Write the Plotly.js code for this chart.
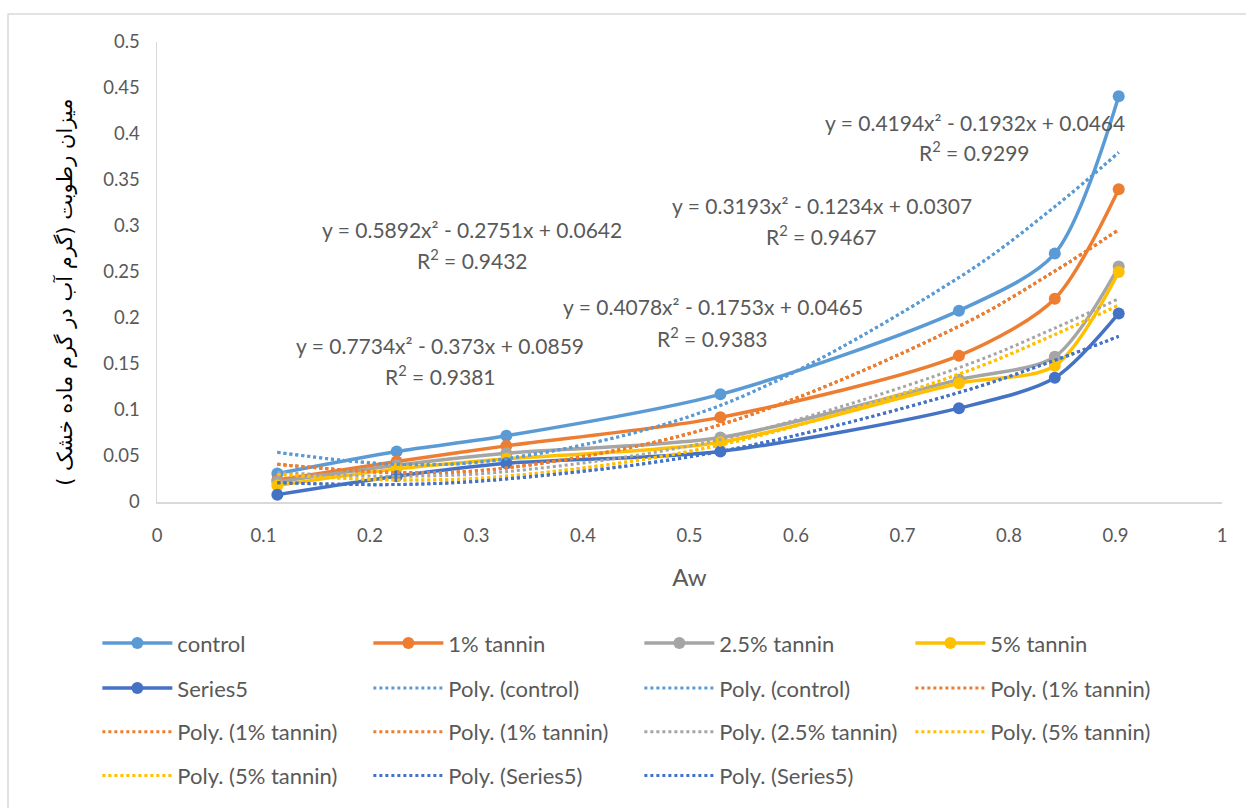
<!DOCTYPE html>
<html>
<head>
<meta charset="utf-8">
<script src="https://cdn.plot.ly/plotly-3.0.1.min.js"></script>
<style>html,body{margin:0;padding:0;background:#fff;}#chart{width:1246px;height:808px;}</style>
</head>
<body>
<div id="chart"></div>
<script>
// Water activity (x)
const aw = [0.113, 0.225, 0.328, 0.529, 0.753, 0.843, 0.903];

// Measured moisture content series
const control   = [0.031, 0.055, 0.072, 0.117, 0.208, 0.270, 0.441];
const tannin1   = [0.024, 0.044, 0.061, 0.092, 0.159, 0.221, 0.340];
const tannin25  = [0.022, 0.040, 0.053, 0.070, 0.133, 0.158, 0.256];
const tannin5   = [0.018, 0.036, 0.047, 0.065, 0.129, 0.148, 0.250];
const series5   = [0.008, 0.028, 0.042, 0.055, 0.102, 0.135, 0.205];

// Polynomial trendline values at the same Aw points
const polyControl  = [0.054, 0.041, 0.047, 0.105, 0.244, 0.321, 0.380];
const polyTannin1  = [0.041, 0.032, 0.037, 0.084, 0.191, 0.251, 0.296];
const polyTannin25 = [0.032, 0.028, 0.033, 0.068, 0.146, 0.189, 0.221];
const polyTannin5  = [0.030, 0.024, 0.028, 0.062, 0.139, 0.182, 0.214];
const polySeries5  = [0.021, 0.019, 0.025, 0.055, 0.119, 0.154, 0.180];

// Labels
const seriesNames = ['control', '1% tannin', '2.5% tannin', '5% tannin', 'Series5'];
const equations = [
  'y = 0.4194x² - 0.1932x + 0.0464',
  'y = 0.3193x² - 0.1234x + 0.0307',
  'y = 0.5892x² - 0.2751x + 0.0642',
  'y = 0.4078x² - 0.1753x + 0.0465',
  'y = 0.7734x² - 0.373x + 0.0859'
];
const rsquared = ['0.9299', '0.9467', '0.9432', '0.9383', '0.9381'];
const yTitle = 'میزان رطوبت (گرم آب در گرم ماده خشک )';
const xTitle = 'Aw';

const C = {ctrl:'#5B9BD5', t1:'#ED7D31', t25:'#A5A5A5', t5:'#FFC000', s5:'#4472C4'};
const FONT = 'Lato, "Open Sans", sans-serif';

function solid(y, name, color, legend) {
  return {x: aw, y: y, name: name, type: 'scatter', mode: 'lines+markers',
    line: {color: color, width: 3.5, shape: 'spline', smoothing: 0.8},
    marker: {color: color, size: 12}, legend: legend};
}
function dotted(y, name, color, legend) {
  return {x: aw, y: y, name: name, type: 'scatter', mode: 'lines',
    line: {color: color, width: 3, dash: 'dot', shape: 'spline', smoothing: 1}, legend: legend};
}

const traces = [
  solid(control, seriesNames[0], C.ctrl, 'legend'),
  solid(tannin1, seriesNames[1], C.t1, 'legend'),
  solid(tannin25, seriesNames[2], C.t25, 'legend'),
  solid(tannin5, seriesNames[3], C.t5, 'legend'),
  solid(series5, seriesNames[4], C.s5, 'legend2'),
  dotted(polyControl, 'Poly. (control)', C.ctrl, 'legend2'),
  dotted(polyControl, 'Poly. (control)', C.ctrl, 'legend2'),
  dotted(polyTannin1, 'Poly. (1% tannin)', C.t1, 'legend2'),
  dotted(polyTannin1, 'Poly. (1% tannin)', C.t1, 'legend3'),
  dotted(polyTannin1, 'Poly. (1% tannin)', C.t1, 'legend3'),
  dotted(polyTannin25, 'Poly. (2.5% tannin)', C.t25, 'legend3'),
  dotted(polyTannin5, 'Poly. (5% tannin)', C.t5, 'legend3'),
  dotted(polyTannin5, 'Poly. (5% tannin)', C.t5, 'legend4'),
  dotted(polySeries5, 'Poly. (Series5)', C.s5, 'legend4'),
  dotted(polySeries5, 'Poly. (Series5)', C.s5, 'legend4')
];

const eqPos = [[0.768, 0.412, 0.381], [0.624, 0.3225, 0.290], [0.296, 0.2965, 0.264],
               [0.522, 0.213, 0.179], [0.266, 0.170, 0.138]];
const annotations = [];
equations.forEach(function(eq, i) {
  annotations.push({x: eqPos[i][0], y: eqPos[i][1], xref: 'x', yref: 'y', text: eq,
    showarrow: false, font: {family: FONT, size: 21, color: '#595959'}});
  annotations.push({x: eqPos[i][0], y: eqPos[i][2], xref: 'x', yref: 'y',
    text: 'R<sup>2</sup> = ' + rsquared[i],
    showarrow: false, font: {family: FONT, size: 21, color: '#595959'}});
});
// Y-axis title (placed as rotated text to match reference position)
annotations.push({x: -0.0864, y: 0.457, xref: 'paper', yref: 'paper', text: yTitle,
  textangle: -90, showarrow: false, xanchor: 'center', yanchor: 'middle',
  font: {family: '"DejaVu Sans", "Noto Sans", sans-serif', size: 21, color: '#000000'}});

function leg(y) {
  return {orientation: 'h', x: -0.056, xanchor: 'left', y: y, yanchor: 'middle',
    entrywidth: 186, entrywidthmode: 'pixels', itemwidth: 70,
    font: {family: FONT, size: 22, color: '#595959'}, bgcolor: 'rgba(0,0,0,0)',
    traceorder: 'normal', itemclick: false};
}

const layout = {
  width: 1246, height: 808,
  margin: {l: 157, r: 24, t: 42, b: 304},
  paper_bgcolor: '#ffffff', plot_bgcolor: '#ffffff',
  font: {family: FONT, color: '#595959'},
  showlegend: true,
  xaxis: {range: [0, 1], dtick: 0.1, tick0: 0, showgrid: false, zeroline: false,
    showline: true, linecolor: '#D9D9D9', linewidth: 1.5,
    ticks: 'outside', ticklen: 16, tickcolor: 'rgba(0,0,0,0)',
    tickfont: {family: FONT, size: 18.5, color: '#595959'},
    title: {text: xTitle, font: {family: FONT, size: 24, color: '#595959'}, standoff: 24},
    automargin: false},
  yaxis: {range: [0, 0.5], dtick: 0.05, tick0: 0, showgrid: false, zeroline: false,
    showline: true, linecolor: '#D9D9D9', linewidth: 1.5,
    ticks: 'outside', ticklen: 12, tickcolor: 'rgba(0,0,0,0)',
    tickfont: {family: FONT, size: 18.5, color: '#595959'},
    automargin: false},
  legend: leg(-0.307),
  legend2: leg(-0.405),
  legend3: leg(-0.500),
  legend4: leg(-0.595),
  annotations: annotations,
  shapes: [{type: 'rect', xref: 'paper', yref: 'paper', x0: -0.1399, x1: 1.2, y0: -1.2, y1: 1.0606,
    line: {color: '#D9D9D9', width: 1.5}, fillcolor: 'rgba(0,0,0,0)', layer: 'below'}]
};

Plotly.newPlot('chart', traces, layout, {displayModeBar: false, staticPlot: true});
</script>
</body>
</html>
